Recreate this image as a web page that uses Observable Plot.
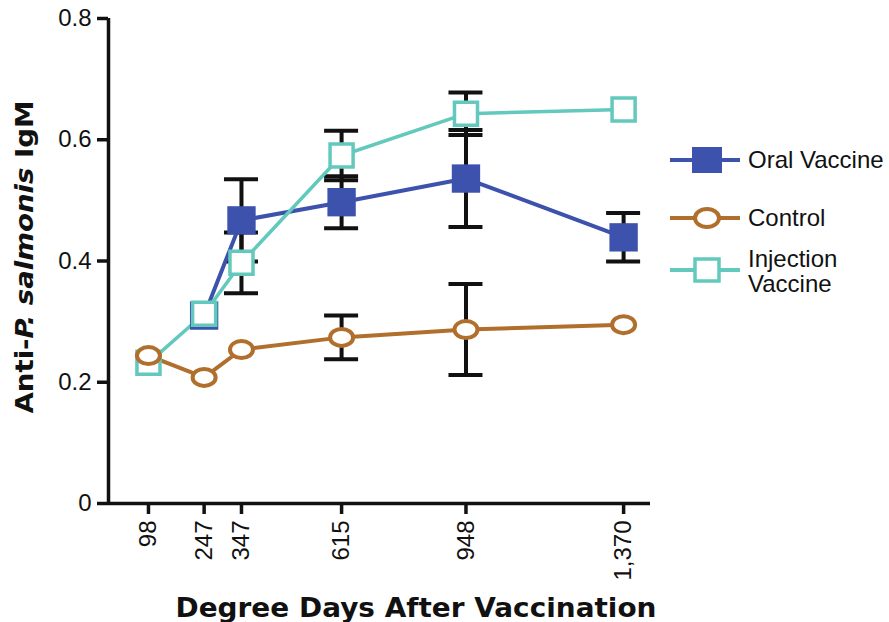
<!DOCTYPE html>
<html>
<head>
<meta charset="utf-8">
<script src="https://cdn.jsdelivr.net/npm/d3@7"></script>
<script src="https://cdn.jsdelivr.net/npm/@observablehq/plot@0.6"></script>
<style>
  body { margin: 0; background: #fff; }
  #chart { position: relative; width: 889px; height: 622px; }
  #chart svg g[aria-label="x-axis tick label"] text,
  #chart svg g[aria-label="y-axis tick label"] text { font-size: 24px; }
</style>
</head>
<body>
<div id="chart"></div>
<script>
// ---- data ----
const xTicks = [98, 247, 347, 615, 948, 1370];
const yTicks = [0, 0.2, 0.4, 0.6, 0.8];

const oralX = [247, 347, 615, 948, 1370];
const oralY = [0.31, 0.467, 0.497, 0.536, 0.439];
const oralErr = [null, 0.068, 0.043, 0.08, 0.04];

const controlX = [98, 247, 347, 615, 948, 1370];
const controlY = [0.244, 0.208, 0.254, 0.274, 0.287, 0.295];
const controlErr = [null, null, null, 0.036, 0.075, null];

const injX = [98, 247, 347, 615, 948, 1370];
const injY = [0.232, 0.313, 0.397, 0.574, 0.643, 0.650];
const injErr = [null, null, 0.05, 0.041, 0.035, null];

const seriesNames = ["Oral Vaccine", "Control", "Injection Vaccine"];
const colors = {oral: "#3d52ad", control: "#b06f2c", inj: "#62c9bc"};

// ---- build tables ----
const mk = (xs, ys, es) => xs.map((x, i) => ({x, y: ys[i], e: es[i]}));
const oral = mk(oralX, oralY, oralErr);
const control = mk(controlX, controlY, controlErr);
const inj = mk(injX, injY, injErr);
const errs = [...oral, ...control, ...inj].filter(d => d.e != null);

const xDomain = [-9, 1442];
const FONT = "'Liberation Sans', Arial, Helvetica, sans-serif";
const TITLE_FONT = "'DejaVu Sans', Verdana, sans-serif";

// horizontal ellipse symbol for the control markers
const ellipseSymbol = {
  draw(ctx, size) {
    const r = Math.sqrt(size / Math.PI);
    const rx = r * 1.15, ry = r * 0.85, k = 0.5523;
    ctx.moveTo(rx, 0);
    ctx.bezierCurveTo(rx, ry * k, rx * k, ry, 0, ry);
    ctx.bezierCurveTo(-rx * k, ry, -rx, ry * k, -rx, 0);
    ctx.bezierCurveTo(-rx, -ry * k, -rx * k, -ry, 0, -ry);
    ctx.bezierCurveTo(rx * k, -ry, rx, -ry * k, rx, 0);
    ctx.closePath();
  }
};

const plot = Plot.plot({
  width: 889,
  height: 622,
  marginLeft: 108,
  marginRight: 239,
  marginTop: 18,
  marginBottom: 119,
  style: {fontFamily: FONT, fontSize: "24px", color: "#111", background: "#fff", overflow: "visible"},
  x: {type: "linear", domain: xDomain},
  y: {domain: [0, 0.8]},
  marks: [
    Plot.axisX({ticks: xTicks, tickFormat: d3.format(","), tickRotate: -90, tickSize: 11, tickPadding: 6, strokeWidth: 3.5, label: null}),
    Plot.axisY({ticks: yTicks, tickFormat: d => d === 0 ? "0" : d.toFixed(1), tickSize: 11, tickPadding: 6, strokeWidth: 3.5, label: null}),
    Plot.ruleY([0], {stroke: "#111", strokeWidth: 3.5}),
    Plot.ruleX([xDomain[0]], {y1: 0, y2: 0.8, stroke: "#111", strokeWidth: 3.5}),
    // error bars
    Plot.ruleX(errs, {x: "x", y1: d => d.y - d.e, y2: d => d.y + d.e, stroke: "#111", strokeWidth: 4}),
    Plot.ruleY(errs, {x1: "x", x2: "x", y: d => d.y + d.e, insetLeft: -17, insetRight: -17, stroke: "#111", strokeWidth: 4}),
    Plot.ruleY(errs, {x1: "x", x2: "x", y: d => d.y - d.e, insetLeft: -17, insetRight: -17, stroke: "#111", strokeWidth: 4}),
    // lines
    Plot.line(oral, {x: "x", y: "y", stroke: colors.oral, strokeWidth: 4}),
    Plot.line(inj, {x: "x", y: "y", stroke: colors.inj, strokeWidth: 3.5}),
    Plot.line(control, {x: "x", y: "y", stroke: colors.control, strokeWidth: 4}),
    // markers
    Plot.dot(oral, {x: "x", y: "y", symbol: "square", r: 16, fill: colors.oral, stroke: "none"}),
    Plot.dot(inj, {x: "x", y: "y", symbol: "square", r: 13, fill: "#fff", stroke: colors.inj, strokeWidth: 3.5}),
    Plot.dot(control, {x: "x", y: "y", symbol: ellipseSymbol, r: 10, fill: "#fff", stroke: colors.control, strokeWidth: 4})
  ]
});

const svg = d3.select(plot);

// y axis title with italic part
const yt = svg.append("text")
  .attr("transform", "translate(33,257) rotate(-90)")
  .attr("text-anchor", "middle")
  .attr("textLength", 313)
  .attr("lengthAdjust", "spacingAndGlyphs")
  .style("font-family", TITLE_FONT)
  .style("font-weight", "bold")
  .style("font-size", "25px")
  .attr("fill", "#111");
yt.append("tspan").text("Anti-");
yt.append("tspan").style("font-style", "italic").text("P. salmonis");
yt.append("tspan").text(" IgM");

// x axis title
svg.append("text")
  .attr("x", 416).attr("y", 617)
  .attr("text-anchor", "middle")
  .attr("textLength", 481)
  .attr("lengthAdjust", "spacingAndGlyphs")
  .style("font-family", TITLE_FONT)
  .style("font-weight", "bold")
  .style("font-size", "27px")
  .attr("fill", "#111")
  .text("Degree Days After Vaccination");

// legend
const lg = svg.append("g").style("font-family", FONT).style("font-size", "24px").attr("text-anchor", "start");
const items = [
  {name: ["Oral Vaccine"], cy: 160, kind: "oral"},
  {name: ["Control"], cy: 218, kind: "control"},
  {name: ["Injection", "Vaccine"], cy: 270, kind: "inj"}
];
items.forEach(it => {
  const g = lg.append("g");
  g.append("line").attr("x1", 670).attr("x2", 740).attr("y1", it.cy).attr("y2", it.cy)
    .attr("stroke", colors[it.kind]).attr("stroke-width", 4);
  if (it.kind === "oral") {
    g.append("rect").attr("x", 692).attr("y", it.cy - 13).attr("width", 30).attr("height", 26).attr("fill", colors.oral);
  } else if (it.kind === "control") {
    g.append("ellipse").attr("cx", 707).attr("cy", it.cy).attr("rx", 12).attr("ry", 9)
      .attr("fill", "#fff").attr("stroke", colors.control).attr("stroke-width", 4);
  } else {
    g.append("rect").attr("x", 695).attr("y", it.cy - 11).attr("width", 24).attr("height", 22)
      .attr("fill", "#fff").attr("stroke", colors.inj).attr("stroke-width", 3.5);
  }
  const t = g.append("text").attr("x", 748).attr("fill", "#111").attr("text-anchor", "start");
  if (it.name.length === 1) {
    t.attr("y", it.cy + 8).text(it.name[0]);
  } else {
    t.append("tspan").attr("x", 748).attr("y", it.cy - 3).text(it.name[0]);
    t.append("tspan").attr("x", 748).attr("y", it.cy + 22).text(it.name[1]);
  }
});

document.getElementById("chart").appendChild(plot);
</script>
</body>
</html>
